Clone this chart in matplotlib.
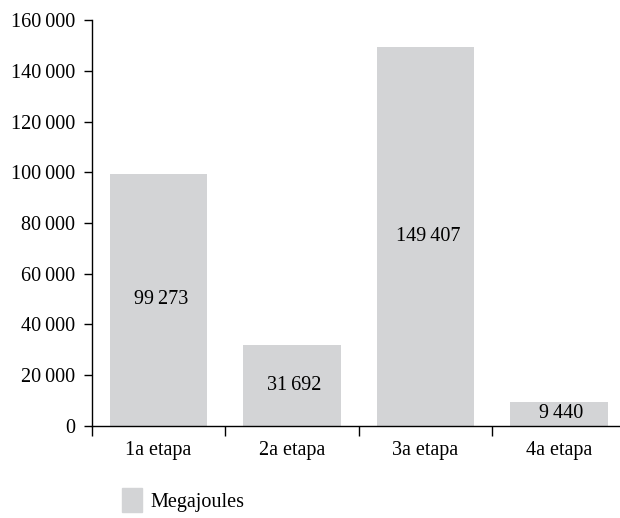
import matplotlib
matplotlib.use('Agg')
import matplotlib.pyplot as plt
from matplotlib.patches import Patch
from matplotlib.ticker import FuncFormatter

plt.rcParams['font.family'] = ['Liberation Serif', 'DejaVu Serif']

categories = ['1a etapa', '2a etapa', '3a etapa', '4a etapa']
values = [99273, 31692, 149407, 9440]
series_name = 'Megajoules'
bar_color = '#d3d4d6'


def fmt_thousands(v, pos=None):
    s = '{:,.0f}'.format(v)
    return s.replace(',', '\u2009')


fig = plt.figure(figsize=(6.2, 5.18), dpi=100)
ax = fig.add_axes([0.148, 0.178, 0.861, 0.783])

x = range(len(categories))
bars = ax.bar(x, values, width=0.73, color=bar_color)
for xi, v in zip(x, values):
    ax.text(xi + 0.02, v / 2, fmt_thousands(v), ha='center', va='center', fontsize=14.5)

ax.set_xlim(-0.5, len(categories) - 0.5)
ax.set_ylim(0, 160000)
ax.set_yticks(range(0, 160001, 20000))
ax.yaxis.set_major_formatter(FuncFormatter(fmt_thousands))
ax.tick_params(axis='y', labelsize=14.5, length=6, width=1, direction='out', pad=6)

# category labels in the middle, ticks on the boundaries
ax.set_xticks([i - 0.5 for i in range(len(categories) + 1)])
ax.set_xticklabels([])
ax.set_xticks(list(x), minor=True)
ax.set_xticklabels(categories, minor=True)
ax.tick_params(axis='x', which='major', length=7, width=1, direction='out')
ax.tick_params(axis='x', which='minor', length=0, labelsize=14.5, pad=11)

for side in ['top', 'right']:
    ax.spines[side].set_visible(False)
for side in ['left', 'bottom']:
    ax.spines[side].set_linewidth(1)

fig.legend(handles=[Patch(color=bar_color, label=series_name)],
           loc='lower left', bbox_to_anchor=(0.168, -0.024), frameon=False,
           fontsize=14.5, handlelength=1.0, handleheight=1.5, handletextpad=0.4)

fig.savefig('out.png', dpi=100)
